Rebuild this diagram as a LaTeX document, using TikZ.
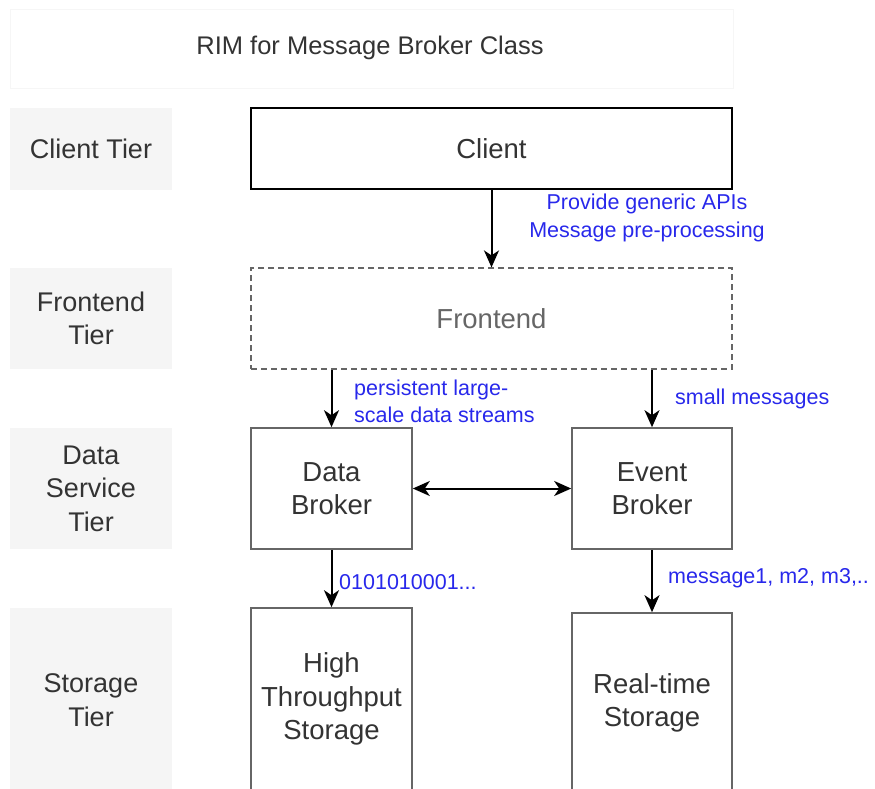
\documentclass[tikz,border=0pt]{standalone}
\usepackage{fontspec}
\setmainfont{Liberation Sans}
\usetikzlibrary{arrows.meta}
\definecolor{txtgray}{HTML}{333333}
\definecolor{boxgray}{HTML}{666666}
\definecolor{tierfill}{HTML}{F5F5F5}
\definecolor{notecol}{RGB}{40,40,235}
\begin{document}
\begin{tikzpicture}[x=1pt,y=-1pt,
    tier/.style={fill=tierfill,draw=none,minimum width=162pt,align=center,
      text=txtgray,font=\fontsize{27}{33.5}\selectfont},
    comp/.style={draw=boxgray,line width=1.6pt,align=center,text=txtgray,
      font=\fontsize{27.5}{33.5}\selectfont},
    note/.style={text=notecol,inner sep=0pt,font=\fontsize{21.5}{27.5}\selectfont},
    tip/.tip={Stealth[length=17pt,width=15pt,inset=5pt]},
    flow/.style={-tip,line width=2pt,black}]
  \clip (0,0) rectangle (875,789);
  \useasboundingbox (0,0) rectangle (875,789);
  % title
  \node[draw=gray!7,minimum width=723pt,minimum height=79pt] (title) at (371.5,48.5) {};
  \node[text=txtgray,font=\fontsize{25.5}{30}\selectfont] (titletext) at (370,48) {RIM for Message Broker Class};
  % tiers
  \node[tier,minimum height=82pt] (ctier) at (91,149) {Client Tier};
  \node[tier,minimum height=101pt] (ftier) at (91,318.5) {Frontend\\Tier};
  \node[tier,minimum height=121pt] (dtier) at (91,488.5) {Data\\Service\\Tier};
  \node[tier,minimum height=184pt] (stier) at (91,700) {Storage\\Tier};
  % components
  \node[comp,draw=black,line width=2pt,minimum width=481pt,minimum height=81pt] (client) at (491.5,148.5) {Client};
  \node[comp,line width=1.2pt,dash pattern=on 6pt off 4pt,text=boxgray,minimum width=481pt,minimum height=101pt] (front) at (491.5,318.5) {Frontend};
  \node[comp,minimum width=161pt,minimum height=121pt] (data) at (331.5,488.5) {Data\\Broker};
  \node[comp,minimum width=160pt,minimum height=121pt] (event) at (652,488.5) {Event\\Broker};
  \node[comp,minimum width=161pt,minimum height=182pt] (hts) at (331.5,699) {High\\Throughput\\Storage};
  \node[comp,minimum width=160pt,minimum height=180pt] (rts) at (652,703) {Real-time\\Storage};
  % connectors
  \draw[flow] (client.south) -- (front.north);
  \draw[flow] (data.north |- front.south) -- (data.north);
  \draw[flow] (event.north |- front.south) -- (event.north);
  \draw[flow,tip-tip] (data.east) -- (event.west);
  \draw[flow] (data.south) -- (hts.north);
  \draw[flow] (event.south) -- (rts.north);
  % notes
  \node[note,align=center] (apis) at (647,218) {Provide generic APIs\\Message pre-processing};
  \node[note,align=left,anchor=west] (streams) at (354,401.5) {persistent large-\\scale data streams};
  \node[note,anchor=west] (small) at (675,399) {small messages};
  \node[note,anchor=west] (bits) at (339,582) {0101010001...};
  \node[note,anchor=west] (msgs) at (668,578) {message1, m2, m3,..};
\end{tikzpicture}
\end{document}
